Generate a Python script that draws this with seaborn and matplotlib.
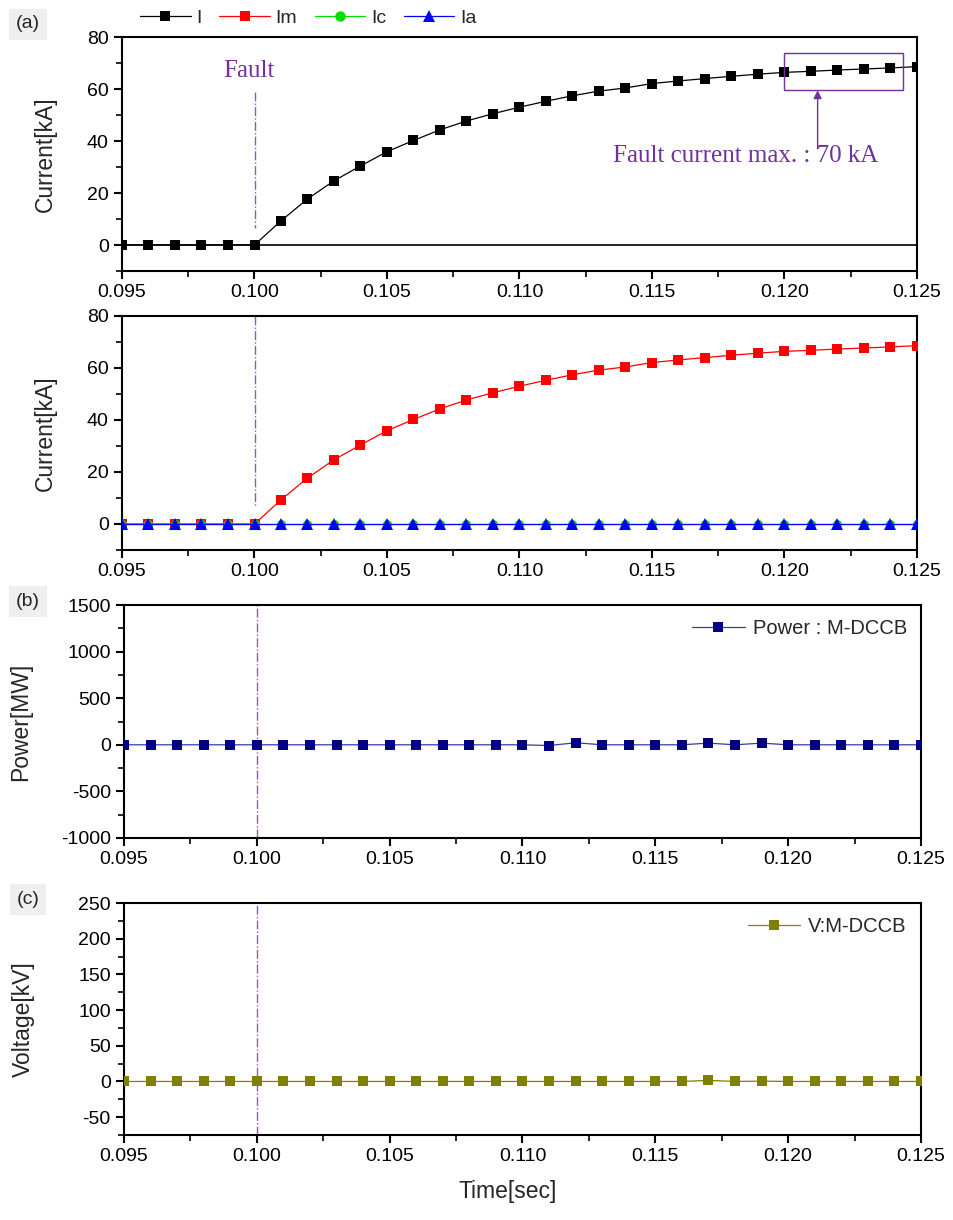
import numpy as np
import pandas as pd
import matplotlib
matplotlib.use('Agg')
import matplotlib.pyplot as plt
import seaborn as sns
from matplotlib.lines import Line2D
from matplotlib.patches import Rectangle
from matplotlib.ticker import MultipleLocator, FormatStrFormatter

# data (time in s, current kA, power MW, voltage kV)
time_s = [0.095, 0.096, 0.097, 0.098, 0.099, 0.100, 0.101, 0.102, 0.103, 0.104,
          0.105, 0.106, 0.107, 0.108, 0.109, 0.110, 0.111, 0.112, 0.113, 0.114,
          0.115, 0.116, 0.117, 0.118, 0.119, 0.120, 0.121, 0.122, 0.123, 0.124, 0.125]
i_total = [0, 0, 0, 0, 0, 0, 9.3, 17.7, 24.7, 30.4,
           35.9, 40.2, 44.3, 47.7, 50.5, 53.0, 55.3, 57.4, 59.2, 60.4,
           62.1, 63.1, 64.0, 64.9, 65.7, 66.4, 66.8, 67.3, 67.7, 68.1, 68.6]
i_m = [0, 0, 0, 0, 0, 0, 9.3, 17.7, 24.7, 30.4,
       35.9, 40.2, 44.3, 47.7, 50.5, 53.0, 55.3, 57.4, 59.2, 60.4,
       62.1, 63.1, 64.0, 64.9, 65.7, 66.4, 66.8, 67.3, 67.7, 68.1, 68.6]
i_c = [0] * 31
i_a = [0] * 31
power_mw = [0, 0, 0, 0, 0, 0, 0, 0, 0, 0,
            0, 0, 0, 0, 0, 0, -8, 22, 0, 0,
            0, 0, 18, 0, 18, 0, 0, 0, 0, 0, 0]
volt_kv = [0, 0, 0, 0, 0, 0, 0, 0, 0, 0,
           0, 0, 0, 0, 0, 0, 0, 0, 0, 0,
           0, 0, 1.5, 0, 0.5, 0, 0, 0, 0, 0, 0]

df = pd.DataFrame({'t': time_s, 'I': i_total, 'Im': i_m, 'Ic': i_c, 'Ia': i_a,
                   'P': power_mw, 'V': volt_kv})

sns.set_style('ticks')
plt.rcParams['font.family'] = ['Liberation Sans', 'DejaVu Sans']
plt.rcParams['axes.unicode_minus'] = False

PURPLE = '#7030a0'
VLINE = '#8a5cc0'
W, H = 954, 1220
fig = plt.figure(figsize=(W / 100, H / 100), dpi=100)


def box(left, top, right, bottom):
    return [left / W, 1 - bottom / H, (right - left) / W, (bottom - top) / H]


ax1 = fig.add_axes(box(122, 37, 917, 271))
ax2 = fig.add_axes(box(122, 316, 917, 550))
ax3 = fig.add_axes(box(124, 605, 921, 838))
ax4 = fig.add_axes(box(124, 903, 921, 1135))


def style(ax, lo, hi, major, minor, label):
    ax.set_xlim(0.095, 0.125)
    ax.set_ylim(lo, hi)
    ax.xaxis.set_major_locator(MultipleLocator(0.005))
    ax.xaxis.set_minor_locator(MultipleLocator(0.0025))
    ax.xaxis.set_major_formatter(FormatStrFormatter('%.3f'))
    ax.yaxis.set_major_locator(MultipleLocator(major))
    ax.yaxis.set_minor_locator(MultipleLocator(minor))
    ax.tick_params(which='both', direction='out', top=False, right=False,
                   labelsize=14, colors='black')
    ax.tick_params(which='major', length=6, width=1.5)
    ax.tick_params(which='minor', length=4, width=1.2)
    for s in ax.spines.values():
        s.set_linewidth(1.5)
        s.set_color('black')
    ax.set_xlabel('')
    ax.set_ylabel(label, fontsize=16.5)


ms = 7.5
# (a) top: total current
ax1.axhline(0, color='black', lw=1.2, zorder=1)
sns.lineplot(data=df, x='t', y='I', ax=ax1, color='black', marker='s',
             markersize=ms, markeredgewidth=0, linewidth=0.9, zorder=3)
style(ax1, -10, 80, 20, 10, 'Current[kA]')
ax1.yaxis.set_label_coords(-0.082, 0.5)
ax1.plot([0.100, 0.100], [59, 6.5], color=VLINE, lw=1.0, ls='-.', zorder=2)
ax1.text(0.0998, 67, 'Fault', color=PURPLE, fontsize=18, family='Liberation Serif',
         ha='center', va='center')
ax1.add_patch(Rectangle((0.1200, 59.5), 0.00449, 14.4, fill=False,
                        edgecolor=PURPLE, lw=1.0, zorder=4))
ax1.annotate('', xy=(0.12125, 59.5), xytext=(0.12125, 37.0),
             arrowprops=dict(arrowstyle='-|>', color=PURPLE, lw=1.0,
                             mutation_scale=12, shrinkA=0, shrinkB=0))
ax1.text(0.11353, 34.4, 'Fault current max. : 70 kA', color=PURPLE, fontsize=18,
         family='Liberation Serif', ha='left', va='center')

# (a) bottom: branch currents
sns.lineplot(data=df, x='t', y='Im', ax=ax2, color='#ff0000', marker='s',
             markersize=ms, markeredgewidth=0, linewidth=0.9, zorder=3)
sns.lineplot(data=df, x='t', y='Ic', ax=ax2, color='#00e000', marker='o',
             markersize=6.5, markeredgewidth=0, linewidth=0.9, zorder=4)
sns.lineplot(data=df, x='t', y='Ia', ax=ax2, color='#0000ff', marker='^',
             markersize=8.5, markeredgewidth=0, linewidth=0.9, zorder=5)
style(ax2, -10, 80, 20, 10, 'Current[kA]')
ax2.yaxis.set_label_coords(-0.082, 0.5)
ax2.plot([0.100, 0.100], [80, 7], color=VLINE, lw=1.0, ls='-.', zorder=2)

# (b) power
sns.lineplot(data=df, x='t', y='P', ax=ax3, color='#3a3aa8', linewidth=0.9,
             marker='s', markersize=ms, markerfacecolor='#000080',
             markeredgewidth=0, label='Power : M-DCCB', zorder=3)
style(ax3, -1000, 1500, 500, 250, 'Power[MW]')
ax3.yaxis.set_label_coords(-0.115, 0.5)
ax3.axvline(0.100, color=VLINE, lw=1.0, ls='-.', zorder=2)
ax3.legend(loc='upper right', frameon=False, fontsize=14.5, handlelength=2.6,
           handletextpad=0.4, borderaxespad=0.3)

# (c) voltage
sns.lineplot(data=df, x='t', y='V', ax=ax4, color='#808000', linewidth=0.9,
             marker='s', markersize=ms, markeredgewidth=0,
             label='V:M-DCCB', zorder=3)
style(ax4, -75, 250, 50, 25, 'Voltage[kV]')
ax4.yaxis.set_label_coords(-0.112, 0.5)
ax4.axvline(0.100, color=VLINE, lw=1.0, ls='-.', zorder=2)
ax4.legend(loc='upper right', frameon=False, fontsize=14.5, handlelength=2.6,
           handletextpad=0.4, borderaxespad=0.3)
ax4.set_xlabel('Time[sec]', fontsize=16.5)
ax4.xaxis.set_label_coords(0.482, -0.194)

# shared legend for (a)
handles = [
    Line2D([], [], color='black', lw=0.9, marker='s', markersize=ms, markeredgewidth=0),
    Line2D([], [], color='#ff0000', lw=0.9, marker='s', markersize=ms, markeredgewidth=0),
    Line2D([], [], color='#00e000', lw=0.9, marker='o', markersize=ms, markeredgewidth=0),
    Line2D([], [], color='#0000ff', lw=0.9, marker='^', markersize=8.5, markeredgewidth=0),
]
fig.legend(handles, ['I', 'Im', 'Ic', 'Ia'], loc='center left',
           bbox_to_anchor=(140 / W, 1 - 18 / H), ncol=4, frameon=False,
           fontsize=14, handlelength=2.6, handletextpad=0.3, columnspacing=0.9,
           borderpad=0, borderaxespad=0)

# panel tags
for tag, ypx in [('(a)', 24), ('(b)', 601), ('(c)', 899)]:
    fig.text(28 / W, 1 - ypx / H, tag, fontsize=14, ha='center', va='center',
             bbox=dict(facecolor='#efefef', edgecolor='none', pad=5))

fig.savefig('out.png', dpi=100)
